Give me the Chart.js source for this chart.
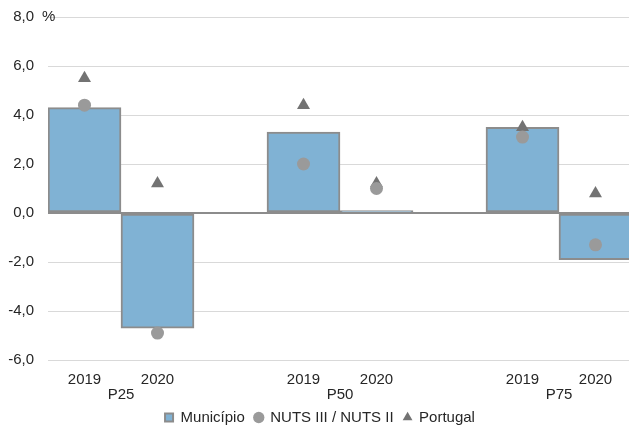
<!DOCTYPE html>
<html>
<head>
<meta charset="utf-8">
<script src="https://cdn.jsdelivr.net/npm/chart.js@4.4.1/dist/chart.umd.min.js"></script>
<style>
  body { margin: 0; background: #fff; overflow: hidden; }
</style>
</head>
<body>
<canvas id="grafico" width="632" height="426"></canvas>
<script>
// categorias (anos) e grupos (percentis)
var anos = ["2019", "2020", "", "2019", "2020", "", "2019", "2020"];
var percentis = ["P25", "P50", "P75"];
var posPercentis = [0.5, 3.5, 6.5];

// valores
var municipio = [4.3, -4.7, null, 3.3, 0.1, null, 3.5, -1.9];
var nuts = [4.4, -4.9, null, 2.0, 1.0, null, 3.1, -1.3];
var portugal = [5.5, 1.2, null, 4.4, 1.2, null, 3.5, 0.8];

var yTicks = [-6, -4, -2, 0, 2, 4, 6, 8];

Chart.defaults.font.family = "'Liberation Sans', Arial, sans-serif";
Chart.defaults.font.size = 15;
Chart.defaults.color = "#262626";

// escreve o "%" ao lado do ultimo valor do eixo
var unidade = {
  id: "unidade",
  afterDraw: function (chart) {
    var y = chart.scales.y;
    var ctx = chart.ctx;
    ctx.save();
    ctx.font = "15px 'Liberation Sans', Arial, sans-serif";
    ctx.fillStyle = "#262626";
    ctx.textAlign = "left";
    ctx.textBaseline = "middle";
    ctx.fillText("%", y.right - 6, y.getPixelForValue(yTicks[yTicks.length - 1]));
    ctx.restore();
  },
};

const data = {
  labels: anos,
  datasets: [
    {
      type: "bar",
      label: "Município",
      data: municipio,
      backgroundColor: "#80b2d4",
      borderColor: "#8c8c8c",
      borderWidth: 2,
      borderSkipped: false,
      barPercentage: 1,
      categoryPercentage: 1,
      pointStyle: "rect",
      order: 3,
    },
    {
      type: "line",
      label: "NUTS III / NUTS II",
      data: nuts,
      showLine: false,
      pointStyle: "circle",
      pointRadius: 6.5,
      pointBackgroundColor: "#9a9a9a",
      pointBorderWidth: 0,
      backgroundColor: "#9a9a9a",
      borderColor: "#9a9a9a",
      borderWidth: 0,
      order: 1,
    },
    {
      type: "line",
      label: "Portugal",
      data: portugal,
      showLine: false,
      pointStyle: "triangle",
      pointRadius: 7.5,
      pointBackgroundColor: "#737373",
      pointBorderWidth: 0,
      backgroundColor: "#737373",
      borderColor: "#737373",
      borderWidth: 0,
      order: 2,
    },
  ],
};

const config = {
  data: data,
  options: {
    responsive: false,
    animation: false,
    events: [],
    devicePixelRatio: 1,
    layout: {
      autoPadding: false,
      padding: { left: 8, right: 0, top: 17, bottom: -9 },
    },
    plugins: {
      tooltip: { enabled: false },
      legend: {
        position: "bottom",
        labels: {
          usePointStyle: true,
          boxWidth: 8,
          boxHeight: 8,
          padding: 10,
          font: { size: 15 },
          color: "#262626",
          sort: function (a, b) {
            return a.datasetIndex - b.datasetIndex;
          },
        },
      },
    },
    scales: {
      x: {
        type: "category",
        position: "bottom",
        offset: true,
        grid: { display: false, drawTicks: false },
        border: { display: false },
        ticks: {
          padding: 12,
          maxRotation: 0,
          autoSkip: false,
          font: { size: 15, lineHeight: 1 },
        },
        afterFit: function (axis) {
          axis.height = 27;
          axis.paddingLeft = 0;
          axis.paddingRight = 0;
        },
      },
      x2: {
        type: "linear",
        position: "bottom",
        min: -0.5,
        max: 7.5,
        grid: { display: false, drawTicks: false },
        border: { display: false },
        afterBuildTicks: function (axis) {
          axis.ticks = posPercentis.map(function (v) {
            return { value: v };
          });
        },
        ticks: {
          padding: 2.5,
          maxRotation: 0,
          autoSkip: false,
          font: { size: 15, lineHeight: 0.7 },
          callback: function (value, index) {
            return percentis[index];
          },
        },
        afterFit: function (axis) {
          axis.height = 13;
          axis.paddingLeft = 0;
          axis.paddingRight = 0;
        },
      },
      y: {
        min: yTicks[0],
        max: yTicks[yTicks.length - 1],
        afterBuildTicks: function (axis) {
          axis.ticks = yTicks.map(function (v) {
            return { value: v };
          });
        },
        border: { display: false },
        grid: {
          drawTicks: false,
          color: function (c) {
            return c.tick && c.tick.value === 0 ? "#8c8c8c" : "#d9d9d9";
          },
          lineWidth: function (c) {
            return c.tick && c.tick.value === 0 ? 2 : 1;
          },
        },
        ticks: {
          padding: 14,
          font: { size: 15 },
          callback: function (value) {
            return value.toFixed(1).replace(".", ",");
          },
        },
        afterFit: function (axis) {
          axis.width = 40;
          axis.paddingTop = 0;
          axis.paddingBottom = 0;
        },
      },
    },
  },
  plugins: [unidade],
};

const grafico = new Chart(document.getElementById("grafico"), config);
</script>
</body>
</html>
